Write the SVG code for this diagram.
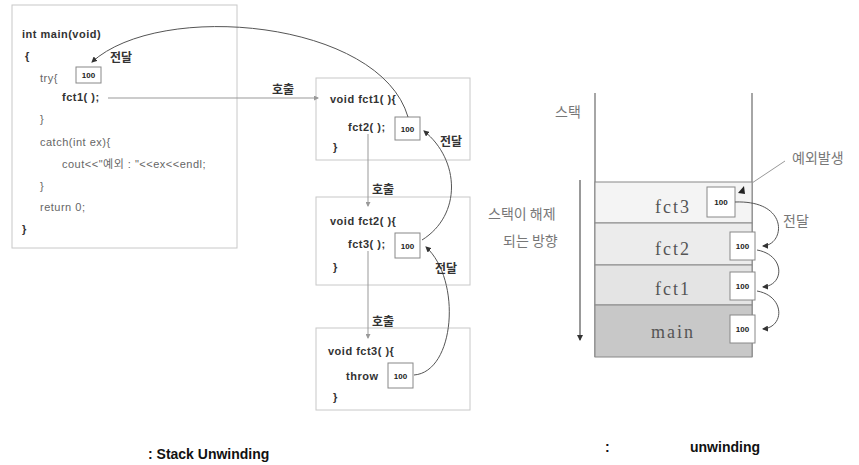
<svg xmlns="http://www.w3.org/2000/svg" width="859" height="465" viewBox="0 0 859 465">
<style>
.frame{fill:#fff;stroke:#c8c8c8;stroke-width:1}
.code{font-family:"Liberation Sans","Noto Sans CJK KR",sans-serif;font-size:11px;fill:#666;letter-spacing:0.5px}
.codeb{font-family:"Liberation Sans","Noto Sans CJK KR",sans-serif;font-size:11px;fill:#333;font-weight:bold;letter-spacing:0.5px}
.lbl{font-family:"Noto Sans CJK KR",sans-serif;font-size:12px;fill:#333;font-weight:bold}
.lbl2{font-family:"Noto Sans CJK KR",sans-serif;font-size:14px;fill:#777}
.val{fill:#fff;stroke:#888;stroke-width:1}
.vt{font-family:"Liberation Sans",sans-serif;font-size:8px;fill:#222;font-weight:bold;text-anchor:middle}
.ln{fill:none;stroke:#999;stroke-width:1}
.cv{fill:none;stroke:#555;stroke-width:1}
.fn{font-family:"Liberation Serif",serif;font-size:18px;fill:#555;text-anchor:middle;letter-spacing:2px}
.cap{font-family:"Liberation Sans",sans-serif;font-size:14px;font-weight:bold;fill:#111}
</style>
<defs>
<marker id="ah" markerWidth="6" markerHeight="6" refX="5" refY="3" orient="auto" markerUnits="userSpaceOnUse">
<path d="M0,0 L6,3 L0,6 Z" fill="#333"/>
</marker>
<marker id="ahs" markerWidth="5" markerHeight="5" refX="4" refY="2.5" orient="auto" markerUnits="userSpaceOnUse">
<path d="M0,0 L5,2.5 L0,5 Z" fill="#999"/>
</marker>
</defs>

<g id="main-box">
<rect class="frame" x="12" y="5" width="225" height="243"/>
<text class="codeb" x="22" y="38">int main(void)</text>
<text class="codeb" x="25" y="60">{</text>
<text class="code" x="40" y="82">try{</text>
<rect class="val" x="76" y="67" width="25" height="16"/>
<text class="vt" x="88.5" y="78">100</text>
<text class="codeb" x="62" y="101">fct1( );</text>
<text class="code" x="40" y="123">}</text>
<text class="code" x="40" y="146">catch(int ex){</text>
<text class="code" x="62" y="168">cout&lt;&lt;"예외 : "&lt;&lt;ex&lt;&lt;endl;</text>
<text class="code" x="40" y="190">}</text>
<text class="code" x="40" y="211">return 0;</text>
<text class="codeb" x="22" y="233">}</text>
</g>

<g id="fct1-box">
<rect class="frame" x="316" y="78" width="154" height="82"/>
<text class="codeb" x="330" y="103">void fct1( ){</text>
<text class="codeb" x="348" y="131">fct2( );</text>
<rect class="val" x="395" y="117" width="25" height="23"/>
<text class="vt" x="407.5" y="132">100</text>
<text class="codeb" x="333" y="151">}</text>
</g>

<g id="fct2-box">
<rect class="frame" x="316" y="197" width="154" height="88"/>
<text class="codeb" x="330" y="225">void fct2( ){</text>
<text class="codeb" x="348" y="248">fct3( );</text>
<rect class="val" x="395" y="233" width="25" height="25"/>
<text class="vt" x="407.5" y="249">100</text>
<text class="codeb" x="333" y="271">}</text>
</g>

<g id="fct3-box">
<rect class="frame" x="316" y="328" width="154" height="82"/>
<text class="codeb" x="328" y="355">void fct3( ){</text>
<text class="codeb" x="346" y="380">throw</text>
<rect class="val" x="388" y="363" width="25" height="25"/>
<text class="vt" x="400.5" y="379">100</text>
<text class="codeb" x="333" y="401">}</text>
</g>

<g id="stack">
<line x1="595" y1="93" x2="595" y2="357" stroke="#888" stroke-width="1.5"/>
<line x1="752" y1="93" x2="752" y2="357" stroke="#888" stroke-width="1.5"/>
<rect x="595" y="182" width="157" height="41" fill="#f4f4f4" stroke="#888"/>
<rect x="595" y="223" width="157" height="42" fill="#ececec" stroke="#888"/>
<rect x="595" y="265" width="157" height="40" fill="#e4e4e4" stroke="#888"/>
<rect x="595" y="305" width="157" height="52" fill="#c8c8c8" stroke="#888"/>
<text class="fn" x="673" y="213">fct3</text>
<text class="fn" x="673" y="255">fct2</text>
<text class="fn" x="673" y="295">fct1</text>
<text class="fn" x="673" y="338">main</text>
<rect class="val" x="707" y="187" width="28" height="30"/>
<text class="vt" x="721" y="205">100</text>
<rect class="val" x="730" y="232" width="25" height="28"/>
<text class="vt" x="742.5" y="249">100</text>
<rect class="val" x="730" y="272" width="25" height="28"/>
<text class="vt" x="742.5" y="289">100</text>
<rect class="val" x="730" y="315" width="25" height="28"/>
<text class="vt" x="742.5" y="332">100</text>
<text class="lbl2" x="555" y="117" font-size="15">스택</text>
<text class="lbl2" x="488" y="219">스택이 해제</text>
<text class="lbl2" x="503" y="246">되는 방향</text>
<text class="lbl2" x="792" y="163">예외발생</text>
<text class="lbl2" x="783" y="226">전달</text>
</g>

<g id="connectors">
<line class="ln" x1="108" y1="98" x2="318" y2="98" marker-end="url(#ahs)"/>
<line class="ln" x1="368" y1="134" x2="368" y2="206" marker-end="url(#ahs)"/>
<line class="ln" x1="368" y1="251" x2="368" y2="338" marker-end="url(#ahs)"/>
<path class="cv" d="M414,375 C455,372 462,280 426,247" marker-end="url(#ah)"/>
<path class="cv" d="M422,240 C462,215 460,160 424,131" marker-end="url(#ah)"/>
<path class="cv" d="M408,117 C380,20 160,0 92,62" marker-end="url(#ah)"/>
<path class="cv" d="M735,202 C790,200 785,245 763,246" marker-end="url(#ah)"/>
<path class="cv" d="M757,250 C785,255 785,285 763,287" marker-end="url(#ah)"/>
<path class="cv" d="M757,291 C785,296 785,327 763,329" marker-end="url(#ah)"/>
<line x1="785" y1="161" x2="752" y2="183" stroke="#999"/>
<path d="M738,193 L744,186 L745,194 Z" fill="#222"/>
<line x1="580" y1="180" x2="580" y2="340" stroke="#999" stroke-width="2" marker-end="url(#ah)"/>
<text class="lbl" x="272" y="94">호출</text>
<text class="lbl" x="372" y="194">호출</text>
<text class="lbl" x="372" y="326">호출</text>
<text class="lbl" x="110" y="62" font-size="13">전달</text>
<text class="lbl" x="440" y="146" font-size="13">전달</text>
<text class="lbl" x="435" y="273" font-size="13">전달</text>
</g>

<text class="cap" x="148" y="459">: Stack Unwinding</text>
<text class="cap" x="605" y="452">:</text>
<text class="cap" x="690" y="452">unwinding</text>
</svg>
